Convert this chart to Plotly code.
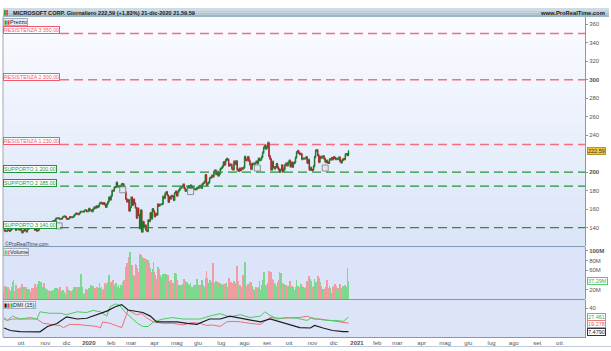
import plotly.graph_objects as go

# ---------------------------------------------------------------- data
# daily closes (trading days from 9-set-2019 to 21-dic-2020)
C_2019_09 = [137.52, 136.08, 136.12, 137.52, 137.32, 136.33, 137.39, 138.52, 141.07, 139.44, 139.14, 137.38, 139.36, 139.54, 137.73, 139.03]
C_2019_10 = [137.07, 134.65, 136.28, 138.12, 137.12, 135.67, 138.24, 139.10, 139.68, 139.55, 141.57, 140.41, 139.69, 137.41, 138.43, 136.37, 137.24, 139.94, 140.73, 144.19, 142.83, 144.61, 143.37]
C_2019_11 = [143.72, 144.55, 144.46, 144.06, 144.26, 145.96, 146.11, 147.07, 147.31, 148.06, 149.97, 150.34, 150.39, 149.62, 149.48, 149.59, 151.23, 152.03, 152.32, 151.38]
C_2019_12 = [149.55, 149.31, 149.85, 151.75, 151.36, 151.13, 151.70, 153.24, 154.53, 155.53, 154.69, 154.37, 155.71, 157.41, 157.41, 157.41, 157.38, 158.67, 158.96, 157.59, 157.70]
C_2020_01 = [160.62, 158.62, 159.03, 157.58, 160.09, 162.09, 161.34, 163.28, 162.13, 163.18, 166.17, 167.10, 166.50, 165.70, 166.72, 165.04, 162.28, 165.46, 168.04, 172.78, 170.23]
C_2020_02 = [174.38, 180.12, 179.90, 183.63, 183.89, 188.70, 184.44, 184.71, 183.71, 185.35, 187.23, 187.28, 184.42, 178.59, 170.89, 168.07, 170.17, 158.18, 162.01]
C_2020_03 = [172.79, 164.51, 170.55, 166.27, 161.57, 150.62, 160.92, 153.63, 139.06, 158.83, 135.42, 146.57, 140.40, 142.71, 137.35, 135.98, 148.34, 146.92, 156.11, 149.70, 160.23, 157.71]
C_2020_04 = [152.11, 155.26, 153.83, 165.27, 163.49, 165.13, 165.14, 165.51, 173.70, 171.88, 177.04, 178.60, 175.06, 167.82, 173.52, 171.42, 174.55, 174.05, 169.81, 177.43, 179.21]
C_2020_05 = [174.57, 178.84, 180.76, 182.54, 183.60, 184.68, 186.74, 182.51, 179.75, 180.53, 183.16, 184.91, 183.63, 185.66, 183.43, 183.51, 181.57, 181.81, 181.40, 183.25]
C_2020_06 = [182.83, 184.91, 185.36, 182.92, 187.20, 188.36, 189.80, 196.84, 186.27, 187.74, 188.94, 193.57, 194.24, 196.32, 195.15, 200.57, 201.91, 197.84, 200.34, 196.33, 198.44, 203.51]
C_2020_07 = [204.70, 206.26, 210.70, 208.25, 212.83, 214.32, 213.67, 207.07, 208.35, 208.04, 203.92, 202.88, 211.60, 208.75, 211.75, 202.54, 201.30, 203.85, 202.02, 204.06, 203.90, 205.01]
C_2020_08 = [216.54, 213.29, 212.94, 216.35, 212.48, 208.25, 203.38, 209.19, 208.70, 208.90, 210.28, 211.49, 209.70, 214.58, 213.02, 213.69, 216.47, 221.15, 226.58, 228.91, 225.53]
C_2020_09 = [227.27, 231.65, 217.30, 214.25, 202.66, 211.29, 205.37, 204.03, 205.41, 208.78, 205.05, 202.91, 200.39, 202.54, 207.42, 200.59, 203.19, 207.82, 209.44, 207.26, 210.33]
C_2020_10 = [212.46, 206.19, 210.38, 205.91, 209.83, 210.58, 215.81, 221.40, 222.86, 220.86, 219.66, 219.66, 214.22, 214.65, 214.80, 214.89, 216.23, 210.08, 213.25, 202.68, 204.72, 202.47]
C_2020_11 = [202.33, 206.43, 216.39, 223.29, 223.72, 218.39, 211.01, 216.55, 215.44, 216.51, 217.23, 214.46, 211.08, 212.42, 210.39, 210.11, 213.86, 213.87, 215.23, 214.07]
C_2020_12 = [216.21, 215.37, 214.24, 214.36, 214.29, 216.01, 211.80, 210.52, 213.26, 214.20, 214.13, 219.28, 219.42, 218.59, 222.59]

# daily volume, millions
V_2019_09 = [17, 28, 24, 22, 26, 21, 17, 24, 35, 39, 17, 29, 21, 17, 22, 17]
V_2019_10 = [25, 31, 24, 24, 19, 25, 20, 20, 21, 14, 22, 22, 23, 32, 20, 25, 31, 37, 29, 35, 26, 24, 33]
V_2019_11 = [23, 19, 20, 17, 19, 17, 16, 18, 16, 23, 22, 22, 20, 20, 26, 17, 17, 19, 15, 11]
V_2019_12 = [28, 24, 18, 17, 16, 16, 18, 24, 24, 26, 24, 22, 25, 26, 53, 24, 11, 12, 20, 19, 18]
V_2020_01 = [22, 21, 29, 21, 28, 21, 22, 21, 24, 23, 34, 23, 24, 19, 20, 33, 32, 28, 36, 51, 36]
V_2020_02 = [30, 36, 39, 30, 27, 34, 26, 30, 23, 29, 30, 36, 39, 37, 67, 75, 57, 88, 97]
V_2020_03 = [71, 71, 49, 47, 72, 70, 65, 56, 93, 92, 87, 81, 85, 77, 84, 82, 82, 75, 64, 57, 63, 77]
V_2020_04 = [57, 50, 41, 67, 63, 51, 45, 35, 52, 40, 53, 52, 37, 50, 37, 39, 40, 34, 34, 54, 53]
V_2020_05 = [39, 30, 28, 30, 30, 30, 32, 41, 38, 27, 36, 32, 29, 33, 26, 22, 30, 30, 27, 42]
V_2020_06 = [22, 29, 26, 30, 40, 29, 25, 43, 58, 43, 34, 40, 26, 35, 75, 33, 32, 38, 36, 36, 26, 34]
V_2020_07 = [32, 29, 32, 31, 33, 33, 26, 44, 30, 36, 34, 32, 37, 34, 32, 68, 38, 29, 30, 26, 51, 51]
V_2020_08 = [78, 28, 22, 32, 27, 36, 36, 28, 21, 18, 18, 24, 22, 25, 37, 19, 30, 39, 57, 26, 29]
V_2020_09 = [25, 34, 58, 55, 57, 41, 40, 34, 31, 27, 35, 40, 56, 55, 33, 30, 32, 27, 30, 27, 28]
V_2020_10 = [26, 37, 25, 28, 26, 18, 26, 40, 28, 24, 21, 31, 28, 24, 22, 19, 24, 38, 35, 48, 42, 37]
V_2020_11 = [25, 27, 42, 36, 25, 48, 44, 35, 28, 20, 21, 19, 21, 25, 39, 23, 27, 23, 13, 26]
V_2020_12 = [27, 31, 27, 19, 22, 21, 32, 22, 23, 27, 25, 29, 26, 64, 37.29]

# DMI(15) (trading-day index, value)
ADX_IDX = [0, 6, 15, 31, 34, 41, 50, 59, 69, 78, 88, 97, 105, 111, 117, 125, 131, 138, 144, 154, 163, 173, 182, 194, 204, 213, 223, 232, 242, 251, 260, 270, 279, 289, 293, 301, 310, 320, 325]
ADX_VAL = [12.5, 9, 7.5, 7.5, 7.2, 14.6, 18.7, 28, 25, 26, 31, 36, 42, 45, 37.5, 35.4, 34, 29, 21, 21, 21, 19, 17.5, 25, 25, 29, 26, 23, 21, 25, 21, 16, 13, 12.5, 16, 12.5, 9, 7.5, 7.479]
DIP_IDX = [0, 3, 8, 15, 25, 31, 34, 43, 53, 59, 69, 78, 84, 91, 97, 100, 105, 109, 114, 117, 122, 126, 131, 136, 141, 150, 159, 169, 178, 185, 194, 204, 213, 223, 232, 242, 246, 251, 258, 267, 276, 286, 290, 295, 305, 314, 320, 325]
DIP_VAL = [25, 23, 29, 25, 27, 25, 35, 33, 33, 31, 35, 34, 37, 35, 29, 42, 46, 44, 35, 31, 25, 19, 14.6, 14.6, 21, 25, 27, 25, 25, 25, 29, 32.5, 28, 31, 27, 29, 35, 30, 25, 27, 26, 23, 27, 25, 23, 23, 21.7, 27.461]
DIM_IDX = [0, 3, 8, 15, 21, 31, 37, 46, 53, 56, 62, 69, 78, 88, 91, 93, 100, 107, 111, 114, 117, 121, 125, 130, 135, 141, 150, 159, 169, 177, 185, 191, 197, 204, 210, 216, 223, 232, 242, 246, 251, 260, 270, 279, 286, 292, 298, 308, 317, 325]
DIM_VAL = [27, 23, 25, 25, 24, 25, 19, 16.7, 15.8, 13, 17.5, 17.5, 16, 14.6, 12.5, 21, 19, 14.6, 13, 25, 37.5, 34, 31, 32.5, 26, 21, 19, 19, 16.7, 20, 19, 16, 16.7, 14.6, 21, 21.7, 21, 19, 17.5, 21.7, 27, 26, 26, 27, 29, 25, 25, 23, 21.7, 19.278]

# dividend markers (trading-day index, price level of the marker)
DIV_IDX = [52, 112, 176, 239, 303]
DIV_PRICE = [142, 181, 179, 204.5, 204.5]

# support / resistance levels
LEVEL_NAMES = ["RESISTENZA 3", "RESISTENZA 2", "RESISTENZA 1", "SUPPORTO 1", "SUPPORTO 2", "SUPPORTO 3"]
LEVEL_VALUES = [350, 300, 230, 200, 185, 140]
LEVEL_KIND = ["R", "R", "R", "S", "S", "S"]

# axes
MONTH_TICK_IDX = [16, 39, 59, 80, 101, 120, 142, 163, 183, 205, 227, 248, 269, 291, 311, 333, 352, 371, 394, 416, 438, 460, 481, 503, 524]
MONTH_TICK_TEXT = ["ott", "nov", "dic", "<b>2020</b>", "feb", "mar", "apr", "mag", "giu", "lug", "ago", "set",
                   "ott", "nov", "dic", "<b>2021</b>", "feb", "mar", "apr", "mag", "giu", "lug", "ago", "set", "ott"]
PRICE_TICKS = [140, 160, 180, 200, 240, 260, 280, 300, 320, 340, 360]
PRICE_BOLD = [200, 300]
VOL_TICKS = [20, 60, 80, 100]
DMI_TICKS = [40]

# ---------------------------------------------------------------- series
CLOSES = (C_2019_09 + C_2019_10 + C_2019_11 + C_2019_12 + C_2020_01 + C_2020_02 + C_2020_03 + C_2020_04 +
          C_2020_05 + C_2020_06 + C_2020_07 + C_2020_08 + C_2020_09 + C_2020_10 + C_2020_11 + C_2020_12)
VOLUMES = (V_2019_09 + V_2019_10 + V_2019_11 + V_2019_12 + V_2020_01 + V_2020_02 + V_2020_03 + V_2020_04 +
           V_2020_05 + V_2020_06 + V_2020_07 + V_2020_08 + V_2020_09 + V_2020_10 + V_2020_11 + V_2020_12)
N = len(CLOSES)
IDX = list(range(N))
OPENS = [CLOSES[0]] + CLOSES[:-1]          # open taken at the previous close
WICK = 0.006
HIGHS = [max(o, c) * (1 + WICK) for o, c in zip(OPENS, CLOSES)]
LOWS = [min(o, c) * (1 - WICK) for o, c in zip(OPENS, CLOSES)]
UP = [c >= o for o, c in zip(OPENS, CLOSES)]

# ---------------------------------------------------------------- geometry helpers
W, H = 611, 351
ML, MR, MT, MB = 3, 26, 17, 14
PW, PH = W - ML - MR, H - MT - MB


def fx(px):
    return (px - ML) / PW


def fy(py):
    return (H - MB - py) / PH


FONT = "Liberation Sans, Arial, DejaVu Sans, sans-serif"
GREEN_VOL, RED_VOL = "#7cd88c", "#f09ca3"
DMI_GREEN, DMI_RED, DMI_BLACK = "#4fcb60", "#ef6f72", "#1c1c1c"

fig = go.Figure()

fig.add_trace(go.Candlestick(
    x=IDX, open=OPENS, high=HIGHS, low=LOWS, close=CLOSES, yaxis="y",
    increasing=dict(line=dict(color="#1c7a2a", width=1), fillcolor="#35a846"),
    decreasing=dict(line=dict(color="#a3282c", width=1), fillcolor="#e2474c"),
    whiskerwidth=0, hoverinfo="skip"))

fig.add_trace(go.Scatter(
    x=DIV_IDX, y=DIV_PRICE, mode="markers", yaxis="y",
    marker=dict(symbol="square", size=6, color="#e3e6eb", line=dict(color="#8a929c", width=1)),
    hoverinfo="skip"))

fig.add_trace(go.Bar(
    x=IDX, y=VOLUMES, yaxis="y2", width=0.75,
    marker=dict(color=[GREEN_VOL if u else RED_VOL for u in UP], line=dict(width=0)),
    hoverinfo="skip"))

fig.add_trace(go.Scatter(x=DIM_IDX, y=DIM_VAL, mode="lines", yaxis="y3",
                         line=dict(color=DMI_RED, width=1), hoverinfo="skip"))
fig.add_trace(go.Scatter(x=DIP_IDX, y=DIP_VAL, mode="lines", yaxis="y3",
                         line=dict(color=DMI_GREEN, width=1), hoverinfo="skip"))
fig.add_trace(go.Scatter(x=ADX_IDX, y=ADX_VAL, mode="lines", yaxis="y3",
                         line=dict(color=DMI_BLACK, width=1.2), hoverinfo="skip"))

# ---------------------------------------------------------------- shapes
shapes = []
# price panel gradient
top_c, bot_c = (250, 251, 255), (219, 229, 248)
NB = 32
p_top, p_bot = 17, 246
for i in range(NB):
    t = i / (NB - 1)
    col = tuple(round(top_c[k] + (bot_c[k] - top_c[k]) * t) for k in range(3))
    y0 = p_top + (p_bot - p_top) * i / NB
    y1 = p_top + (p_bot - p_top) * (i + 1) / NB
    shapes.append(dict(type="rect", xref="paper", yref="paper", x0=0, x1=1, y0=fy(y1) - 0.002, y1=fy(y0),
                       fillcolor="rgb(%d,%d,%d)" % col, line=dict(width=0), layer="below"))
# volume + DMI panels
shapes.append(dict(type="rect", xref="paper", yref="paper", x0=0, x1=1, y0=fy(299), y1=fy(246),
                   fillcolor="#dbe4f8", line=dict(width=0), layer="below"))
shapes.append(dict(type="rect", xref="paper", yref="paper", x0=0, x1=1, y0=0, y1=fy(299),
                   fillcolor="#dce5f8", line=dict(width=0), layer="below"))
# separators and frame
for py in (246.5, 299.5):
    shapes.append(dict(type="line", xref="paper", yref="paper", x0=0, x1=1, y0=fy(py), y1=fy(py),
                       line=dict(color="#8197b2", width=1)))
shapes.append(dict(type="line", xref="paper", yref="paper", x0=0, x1=0, y0=0, y1=1,
                   line=dict(color="#9aa8b8", width=1)))
shapes.append(dict(type="line", xref="paper", yref="paper", x0=fx(0), x1=fx(611), y0=fy(346.5), y1=fy(346.5),
                   line=dict(color="#c2ccd8", width=1)))
# header bar
hb_top, hb_bot = 8, 17
hdr_top, hdr_bot = (206, 220, 229), (156, 182, 198)
for i in range(4):
    t = i / 3
    col = tuple(round(hdr_top[k] + (hdr_bot[k] - hdr_top[k]) * t) for k in range(3))
    y0 = hb_top + (hb_bot - hb_top) * i / 4
    y1 = hb_top + (hb_bot - hb_top) * (i + 1) / 4
    shapes.append(dict(type="rect", xref="paper", yref="paper", x0=fx(3), x1=fx(609), y0=fy(y1), y1=fy(y0),
                       fillcolor="rgb(%d,%d,%d)" % col, line=dict(width=0)))
shapes.append(dict(type="rect", xref="paper", yref="paper", x0=fx(4), x1=fx(5.8), y0=fy(15.5), y1=fy(10),
                   fillcolor="#2fa040", line=dict(width=0)))
shapes.append(dict(type="rect", xref="paper", yref="paper", x0=fx(6.2), x1=fx(8), y0=fy(15.5), y1=fy(10),
                   fillcolor="#e04848", line=dict(width=0)))
# support / resistance lines
for name, val, kind in zip(LEVEL_NAMES, LEVEL_VALUES, LEVEL_KIND):
    color = "#f2707f" if kind == "R" else "#23923a"
    width = 1.6 if kind == "R" else 1.3
    shapes.append(dict(type="line", xref="paper", yref="y", x0=fx(60), x1=1, y0=val, y1=val,
                       line=dict(color=color, width=width, dash="9px,5px")))

# ---------------------------------------------------------------- annotations
ann = []
pct = (CLOSES[-1] / CLOSES[-2] - 1) * 100
title = "MICROSOFT CORP. Giornaliero %s (+%s%%) 21-dic-2020 21.59.59" % (
    ("%.2f" % CLOSES[-1]).replace(".", ","), ("%.2f" % pct).replace(".", ","))
ann.append(dict(xref="paper", yref="paper", x=fx(11), y=fy(12.6), xanchor="left", yanchor="middle",
                text="<b>%s</b>" % title, showarrow=False, font=dict(size=5.6, color="#1a1a1a", family=FONT)))
ann.append(dict(xref="paper", yref="paper", x=fx(607), y=fy(12.6), xanchor="right", yanchor="middle",
                text="<b>www.ProRealTime.com</b>", showarrow=False, font=dict(size=5.8, color="#1a1a1a", family=FONT)))


def panel_label(text, py):
    return dict(xref="paper", yref="paper", x=fx(3), y=fy(py), xanchor="left", yanchor="top", text=text,
                showarrow=False, bgcolor="#e8edf5", bordercolor="#a3afbf", borderwidth=1, borderpad=0,
                font=dict(size=5.5, color="#222", family=FONT))


ann.append(panel_label("<span style='color:#2fa040'>▮</span><span style='color:#e04848'>▮</span>Prezzo", 17.5))
ann.append(panel_label("<span style='color:#5fd072'>▮</span><span style='color:#ef8a90'>▮</span>Volume", 248))
ann.append(panel_label("<span style='color:#111'>▮</span><span style='color:#e04848'>▮</span>"
                       "<span style='color:#3fbf50'>▮</span>DMI (15)", 300.8))
ann.append(dict(xref="paper", yref="paper", x=fx(3), y=fy(243.5), xanchor="left", yanchor="middle",
                text="©ProRealTime.com", showarrow=False, font=dict(size=5, color="#444", family=FONT)))

for name, val, kind in zip(LEVEL_NAMES, LEVEL_VALUES, LEVEL_KIND):
    color = "#ef5a6c" if kind == "R" else "#23923a"
    txt = "%s %s" % (name, ("%.2f" % val).replace(".", ","))
    ann.append(dict(xref="paper", yref="y", x=fx(3), y=val, xanchor="left", yanchor="bottom", yshift=-1,
                    text=txt, showarrow=False, bgcolor="white", bordercolor=color, borderwidth=1,
                    borderpad=0, height=6, font=dict(size=5.3, color=color, family=FONT)))


def value_box(text, yref, y, bg, border, fg):
    return dict(xref="paper", yref=yref, x=fx(587), y=y, xanchor="left", yanchor="middle", text=text,
                showarrow=False, bgcolor=bg, bordercolor=border, borderwidth=1, borderpad=0, height=6,
                font=dict(size=5.5, color=fg, family=FONT))


ann.append(value_box("%.2f" % CLOSES[-1], "y", CLOSES[-1], "#f3c43e", "#b8932a", "#333"))
ann.append(value_box("%.2fM" % VOLUMES[-1], "y2", VOLUMES[-1], "white", "#5cc86d", "#3cb04f"))
ann.append(value_box("%.3f" % DIP_VAL[-1], "y3", DIP_VAL[-1], "white", "#5cc86d", "#3cb04f"))
ann.append(value_box("%.3f" % DIM_VAL[-1], "y3", DIM_VAL[-1] - 1.2, "white", "#ef7a7e", "#e05a5e"))
ann.append(value_box("%.4f" % ADX_VAL[-1], "y3", ADX_VAL[-1], "white", "#333", "#222"))

# ---------------------------------------------------------------- layout
axis_common = dict(side="right", anchor="x", ticks="outside", ticklen=2, tickcolor="#8a96a6",
                   showline=True, linecolor="#8197b2", linewidth=1, showgrid=False, zeroline=False,
                   tickfont=dict(size=6, color="#555", family=FONT), fixedrange=True)

fig.update_layout(
    width=W, height=H, margin=dict(l=ML, r=MR, t=MT, b=MB),
    paper_bgcolor="white", plot_bgcolor="rgba(0,0,0,0)", showlegend=False,
    font=dict(family=FONT, size=6, color="#555"),
    bargap=0,
    xaxis=dict(range=[-0.94, 548.1], anchor="y3", tickmode="array", tickvals=MONTH_TICK_IDX,
               ticktext=MONTH_TICK_TEXT, ticks="", showgrid=False, zeroline=False, showline=True,
               linecolor="#8197b2", rangeslider=dict(visible=False),
               tickfont=dict(size=6, color="#555", family=FONT)),
    yaxis=dict(domain=[fy(246), 1], range=[120.22, 367.78], tickmode="array", tickvals=PRICE_TICKS,
               ticktext=[("<b>%d</b>" % v) if v in PRICE_BOLD else str(v) for v in PRICE_TICKS], **axis_common),
    yaxis2=dict(domain=[fy(299), fy(247)], range=[0, 108.3], tickmode="array", tickvals=VOL_TICKS,
                ticktext=[("<b>%dM</b>" % v) if v == 100 else "%dM" % v for v in VOL_TICKS], **axis_common),
    yaxis3=dict(domain=[0, fy(300)], range=[0, 51.4], tickmode="array", tickvals=DMI_TICKS,
                ticktext=[str(v) for v in DMI_TICKS], **axis_common),
    shapes=shapes,
    annotations=ann,
)

fig.write_html("out.html")
